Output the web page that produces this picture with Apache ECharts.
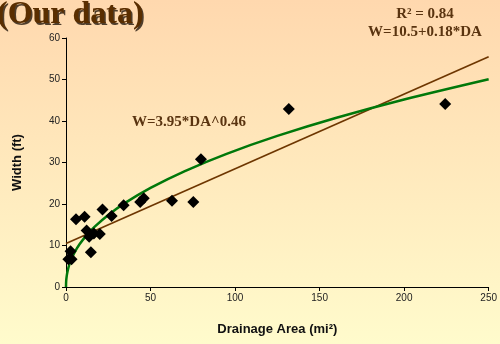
<!DOCTYPE html>
<html><head><meta charset="utf-8">
<script src="https://cdn.jsdelivr.net/npm/echarts@6/dist/echarts.min.js"></script>
<style>html,body{margin:0;padding:0;}#c{width:500px;height:344px;}</style>
</head><body><div id="c"></div>
<script>
// Observed data: drainage area (mi^2) and width (ft)
const drainageArea = [1.4, 3.3, 2.7, 5.9, 11, 12.2, 13.7, 16.5, 20, 14.7, 21.6, 27, 34.1, 43.9, 46, 62.7, 75.3, 79.8, 131.8, 224.3];
const width       = [6.7, 6.7, 8.6, 16.3, 16.9, 13.6, 12.1, 12.9, 12.8, 8.4, 18.7, 17.1, 19.7, 20.5, 21.4, 20.8, 20.5, 30.8, 42.9, 44.1];
// Trendline coefficients as printed on the chart
const linearFit = [10.5, 0.18];   // W = a + b*DA
const powerFit = [3.95, 0.46];    // W = a*DA^b
const xTicks = [0, 50, 100, 150, 200, 250];
const yTicks = [0, 10, 20, 30, 40, 50, 60];

const pts = drainageArea.map((x, i) => [x, width[i]]);
const linePts = [[0, linearFit[0]], [250, linearFit[0] + linearFit[1] * 250]];
const powPts = [];
[0, 0.05, 0.2, 0.5, 1, 2, 3, 5, 8, 12, 17, 25, 35, 50, 70, 95, 125, 160, 200, 250].forEach(x => {
  powPts.push([x, powerFit[0] * Math.pow(x, powerFit[1])]);
});

const chart = echarts.init(document.getElementById('c'), null, {renderer: 'canvas'});
const txtColor = '#5a3410';
chart.setOption({
  animation: false,
  backgroundColor: new echarts.graphic.LinearGradient(0, 0, 0, 1, [
    {offset: 0, color: '#ffd8ae'}, {offset: 1, color: '#fffbcc'}
  ]),
  grid: {left: 66, right: 9, top: 38, bottom: 57},
  xAxis: {
    type: 'value', min: xTicks[0], max: xTicks[xTicks.length - 1], interval: 50,
    name: 'Drainage Area (mi²)', nameLocation: 'middle', nameGap: 36,
    nameTextStyle: {fontFamily: 'Liberation Sans', fontWeight: 'bold', fontSize: 13, color: '#111'},
    axisLine: {lineStyle: {color: '#000', width: 1}},
    axisTick: {length: 4, lineStyle: {color: '#000'}},
    axisLabel: {fontFamily: 'Liberation Sans', fontSize: 10, color: '#222', margin: 6},
    splitLine: {show: false}
  },
  yAxis: {
    type: 'value', min: yTicks[0], max: yTicks[yTicks.length - 1], interval: 10,
    name: 'Width (ft)', nameLocation: 'middle', nameGap: 42,
    nameTextStyle: {fontFamily: 'Liberation Sans', fontWeight: 'bold', fontSize: 13, color: '#111'},
    axisLine: {show: true, lineStyle: {color: '#000', width: 1}},
    axisTick: {show: true, length: 4, lineStyle: {color: '#000'}},
    axisLabel: {fontFamily: 'Liberation Sans', fontSize: 10, color: '#222', margin: 6},
    splitLine: {show: false}
  },
  series: [
    {type: 'line', data: linePts, showSymbol: false, symbol: 'none',
     lineStyle: {color: '#6e3600', width: 1.7}, z: 2},
    {type: 'line', data: powPts, showSymbol: false, symbol: 'none', smooth: 0.3,
     lineStyle: {color: '#00780a', width: 2.5}, z: 3},
    {type: 'scatter', data: pts, symbol: 'diamond', symbolSize: 12,
     itemStyle: {color: '#000', opacity: 1}, z: 4}
  ],
  graphic: [
    {type: 'text', left: -1.5, top: 0.5, z: 1, style: {
      text: '(Our data)', font: 'bold 32px "Liberation Serif"', fill: 'rgba(20,10,0,0.75)'
    }},
    {type: 'text', left: -3, top: -1, z: 2, style: {
      text: '(Our data)', font: 'bold 32px "Liberation Serif"', fill: '#5a2e00'
    }},
    {type: 'text', x: 425, y: 14, style: {
      text: 'R² = 0.84', font: 'bold 15px "Liberation Serif"', fill: txtColor, align: 'center', verticalAlign: 'middle'
    }},
    {type: 'text', x: 425, y: 32, style: {
      text: 'W=10.5+0.18*DA', font: 'bold 15px "Liberation Serif"', fill: txtColor, align: 'center', verticalAlign: 'middle'
    }},
    {type: 'text', x: 189, y: 122, style: {
      text: 'W=3.95*DA^0.46', font: 'bold 15px "Liberation Serif"', fill: txtColor, align: 'center', verticalAlign: 'middle'
    }}
  ]
});
</script></body></html>
